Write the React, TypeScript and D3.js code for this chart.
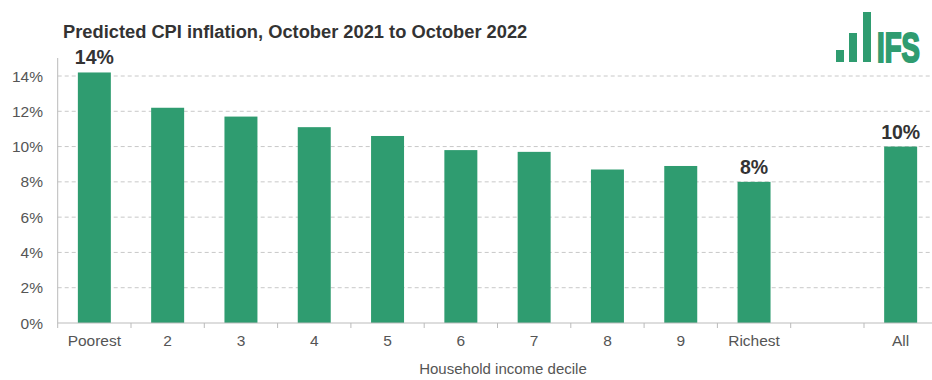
import React from "react";
import * as d3 from "d3";

const categories = ["Poorest", "2", "3", "4", "5", "6", "7", "8", "9", "Richest", "", "All"];
const values = [14.2, 12.2, 11.7, 11.1, 10.6, 9.8, 9.7, 8.7, 8.9, 8.0, NaN, 10.0];
const labelled = ["Poorest", "Richest", "All"];
const labelText = ["14%", "8%", "10%"];
const yTicks = [0, 2, 4, 6, 8, 10, 12, 14];

const W = 932;
const H = 380;
const GREEN = "#2f9c70";

export default function App() {
  const keys = categories.map((c, i) => c + "|" + i);
  const x = d3.scaleBand<string>().domain(keys).range([57.7, 937.3]).paddingInner(0.55).paddingOuter(0.275);
  const y = d3.scaleLinear().domain([0, 14]).range([323, 76]);
  const step = x.step();
  return (
    <div style={{ position: "absolute", left: 0, top: 0, width: W, height: H, background: "#fff" }}>
      <svg width={W} height={H} style={{ display: "block", fontFamily: "Liberation Sans, Arial, sans-serif" }}>
        <text x={63} y={38} fontSize={18.3} fontWeight="bold" fill="#333">Predicted CPI inflation, October 2021 to October 2022</text>
        {/* logo */}
        <g fill={GREEN}>
          <rect x={836} y={50} width={8} height={12} />
          <rect x={849} y={33} width={8} height={29} />
          <rect x={863} y={12} width={8} height={50} />
          <text transform="translate(877,61.5) scale(0.64,1)" x={0} y={0} fontSize={43} fontWeight="bold" stroke={GREEN} strokeWidth={2.2} strokeLinejoin="miter">IFS</text>
        </g>
        {/* gridlines */}
        {yTicks.filter((t) => t > 0).map((t) => (
          <line key={t} x1={57.7} x2={W} y1={y(t)} y2={y(t)} stroke="#c8c8c8" strokeDasharray="4,3" strokeWidth={1} />
        ))}
        {yTicks.map((t) => (
          <text key={"l" + t} x={43} y={y(t) + 5.5} textAnchor="end" fontSize={15.5} fill="#555">{t}%</text>
        ))}
        <line x1={57.7} x2={57.7} y1={58} y2={323} stroke="#bbb" />
        {/* bars */}
        {keys.map((k, i) =>
          isNaN(values[i]) ? null : (
            <rect key={k} x={x(k)} y={y(values[i])} width={x.bandwidth()} height={y(0) - y(values[i])} fill={GREEN} />
          )
        )}
        <line x1={57.7} x2={W} y1={323} y2={323} stroke="#bbb" />
        {keys.map((k) => {
          const x0 = (x(k) as number) - step * 0.275;
          return <line key={"t" + k} x1={x0} x2={x0} y1={323} y2={328} stroke="#bbb" />;
        })}
        {keys.map((k, i) => (
          <text key={"x" + k} x={(x(k) as number) + x.bandwidth() / 2} y={346} textAnchor="middle" fontSize={15.5} fill="#555">{categories[i]}</text>
        ))}
        {labelled.map((c, j) => {
          const i = categories.indexOf(c);
          const k = keys[i];
          return (
            <text key={"v" + c} x={(x(k) as number) + x.bandwidth() / 2} y={y(values[i]) - 8} textAnchor="middle" fontSize={19.5} fontWeight="bold" fill="#333">{labelText[j]}</text>
          );
        })}
        <text x={503} y={374} textAnchor="middle" fontSize={15} fill="#555">Household income decile</text>
      </svg>
    </div>
  );
}
